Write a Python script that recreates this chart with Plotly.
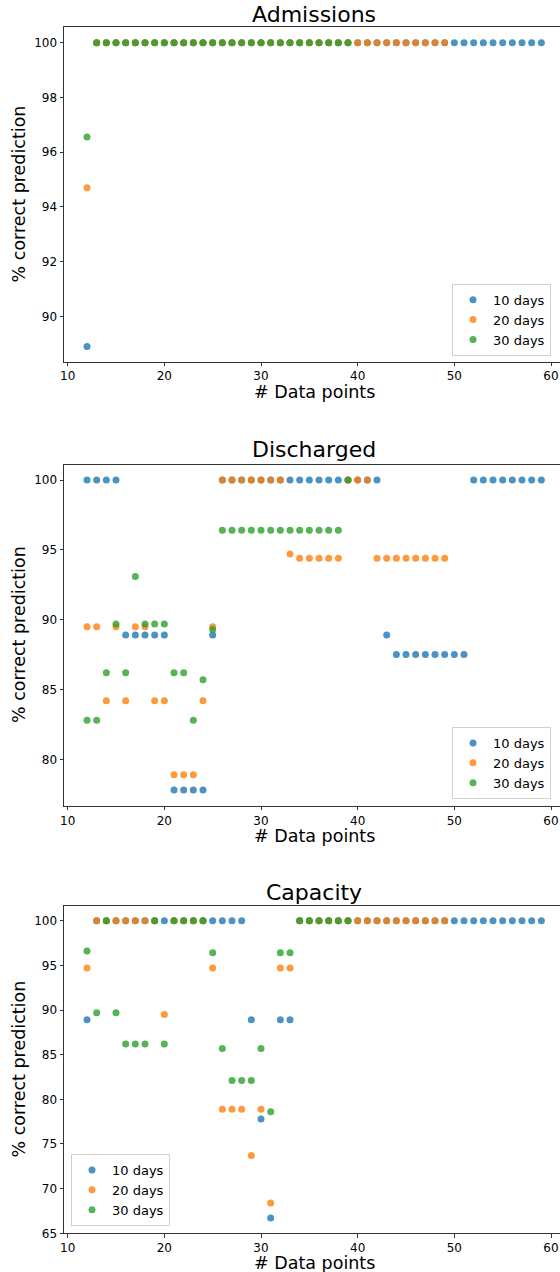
import plotly.graph_objects as go

# ---------------- data ----------------
series_names = ["10 days", "20 days", "30 days"]
colors = ["#1f77b4", "#ff7f0e", "#2ca02c"]

x_10 = [12, 13, 14, 15, 16, 17, 18, 19, 20, 21, 22, 23, 24, 25, 26, 27, 28, 29, 30, 31,
        32, 33, 34, 35, 36, 37, 38, 39, 40, 41, 42, 43, 44, 45, 46, 47, 48, 49, 50, 51,
        52, 53, 54, 55, 56, 57, 58, 59]
x_20 = [12, 13, 14, 15, 16, 17, 18, 19, 20, 21, 22, 23, 24, 25, 26, 27, 28, 29, 30, 31,
        32, 33, 34, 35, 36, 37, 38, 39, 40, 41, 42, 43, 44, 45, 46, 47, 48, 49]
x_30 = [12, 13, 14, 15, 16, 17, 18, 19, 20, 21, 22, 23, 24, 25, 26, 27, 28, 29, 30, 31,
        32, 33, 34, 35, 36, 37, 38, 39]

adm_10 = [88.9, 100, 100, 100, 100, 100, 100, 100, 100, 100, 100, 100, 100, 100, 100, 100,
          100, 100, 100, 100, 100, 100, 100, 100, 100, 100, 100, 100, 100, 100, 100, 100,
          100, 100, 100, 100, 100, 100, 100, 100, 100, 100, 100, 100, 100, 100, 100, 100]
adm_20 = [94.7, 100, 100, 100, 100, 100, 100, 100, 100, 100, 100, 100, 100, 100, 100, 100,
          100, 100, 100, 100, 100, 100, 100, 100, 100, 100, 100, 100, 100, 100, 100, 100,
          100, 100, 100, 100, 100, 100]
adm_30 = [96.55, 100, 100, 100, 100, 100, 100, 100, 100, 100, 100, 100, 100, 100, 100, 100,
          100, 100, 100, 100, 100, 100, 100, 100, 100, 100, 100, 100]

dis_10 = [100, 100, 100, 100, 88.9, 88.9, 88.9, 88.9, 88.9, 77.8, 77.8, 77.8, 77.8, 88.9,
          100, 100, 100, 100, 100, 100, 100, 100, 100, 100, 100, 100, 100, 100, 100, 100, 100,
          88.9, 87.5, 87.5, 87.5, 87.5, 87.5, 87.5, 87.5, 87.5,
          100, 100, 100, 100, 100, 100, 100, 100]
dis_20 = [89.5, 89.5, 84.2, 89.5, 84.2, 89.5, 89.5, 84.2, 84.2, 78.9, 78.9, 78.9, 84.2, 89.5,
          100, 100, 100, 100, 100, 100, 100, 94.7, 94.4, 94.4, 94.4, 94.4, 94.4,
          100, 100, 100, 94.4, 94.4, 94.4, 94.4, 94.4, 94.4, 94.4, 94.4]
dis_30 = [82.8, 82.8, 86.2, 89.7, 86.2, 93.1, 89.7, 89.7, 89.7, 86.2, 86.2, 82.8, 85.7, 89.3,
          96.4, 96.4, 96.4, 96.4, 96.4, 96.4, 96.4, 96.4, 96.4, 96.4, 96.4, 96.4, 96.4, 100]

cap_10 = [88.9, 100, 100, 100, 100, 100, 100, 100, 100, 100, 100, 100, 100, 100, 100, 100,
          100, 88.9, 77.8, 66.7, 88.9, 88.9,
          100, 100, 100, 100, 100, 100, 100, 100, 100, 100, 100, 100, 100, 100, 100, 100,
          100, 100, 100, 100, 100, 100, 100, 100, 100, 100]
cap_20 = [94.7, 100, 100, 100, 100, 100, 100, 100, 89.5, 100, 100, 100, 100, 94.7,
          78.9, 78.9, 78.9, 73.7, 78.9, 68.4, 94.7, 94.7,
          100, 100, 100, 100, 100, 100, 100, 100, 100, 100, 100, 100, 100, 100, 100, 100]
cap_30 = [96.6, 89.7, 100, 89.7, 86.2, 86.2, 86.2, 100, 86.2, 100, 100, 100, 100, 96.4,
          85.7, 82.1, 82.1, 82.1, 85.7, 78.6, 96.4, 96.4, 100, 100, 100, 100, 100, 100]

panels = [
    ("Admissions", [adm_10, adm_20, adm_30], [88.35, 100.56], [90, 92, 94, 96, 98, 100]),
    ("Discharged", [dis_10, dis_20, dis_30], [76.69, 101.11], [80, 85, 90, 95, 100]),
    ("Capacity", [cap_10, cap_20, cap_30], [65.0, 101.67], [65, 70, 75, 80, 85, 90, 95, 100]),
]
xs = [x_10, x_20, x_30]
x_ticks = [10, 20, 30, 40, 50, 60]

# ---------------- layout helpers ----------------
W, H = 560, 1272
L = 64
PW = W - L


def px(p):
    return (p - L) / PW


def py(p):
    return 1 - p / H


# pixel boxes (top, bottom) of each axes
boxes = [(27.3, 361.5), (464.5, 805.6), (905.8, 1233.3)]
title_mid = [14.5, 449.0, 892.5]
xlabel_mid = [392.5, 836.0, 1263.0]
legend_pos = [
    dict(x=px(551), xanchor="right", y=py(355.7), yanchor="bottom"),
    dict(x=px(551), xanchor="right", y=py(799.0), yanchor="bottom"),
    dict(x=px(71), xanchor="left", y=py(1226.0), yanchor="bottom"),
]

FONT = "DejaVu Sans"
fig = go.Figure()
annotations = []
layout = dict(
    width=W, height=H,
    margin=dict(l=L, r=0, t=0, b=0, autoexpand=False),
    paper_bgcolor="white", plot_bgcolor="white",
    font=dict(family=FONT, color="#000"),
    showlegend=True,
)

for i, (title, ys, yr, yt) in enumerate(panels):
    n = "" if i == 0 else str(i + 1)
    lg = "legend" if i == 0 else "legend" + str(i + 1)
    for k in range(3):
        fig.add_trace(go.Scatter(
            x=xs[k], y=ys[k], mode="markers", name=series_names[k],
            marker=dict(color=colors[k], size=7, opacity=0.8, line=dict(width=0)),
            xaxis="x" + n, yaxis="y" + n, legend=lg,
        ))
    top, bot = boxes[i]
    layout["xaxis" + n] = dict(
        domain=[0, 1], anchor="y" + n, range=[9.62, 60.93], automargin=False,
        tickvals=x_ticks, ticks="outside", ticklen=3.5, tickwidth=1, tickcolor="#333",
        showline=True, linecolor="#333", linewidth=1, mirror=True,
        showgrid=False, zeroline=False, tickfont=dict(size=12, family=FONT),
    )
    layout["yaxis" + n] = dict(
        domain=[py(bot), py(top)], anchor="x" + n, range=yr, automargin=False,
        tickvals=yt, ticks="outside", ticklen=3.5, tickwidth=1, tickcolor="#333",
        showline=True, linecolor="#333", linewidth=1,
        showgrid=False, zeroline=False, tickfont=dict(size=12, family=FONT),
    )
    layout[lg] = dict(
        **legend_pos[i],
        bordercolor="#d0d0d0", borderwidth=1, bgcolor="rgba(255,255,255,0.8)",
        font=dict(size=13, family=FONT), tracegroupgap=0,
    )
    annotations.append(dict(
        text=title, x=px(314), y=py(title_mid[i]), xref="paper", yref="paper",
        xanchor="center", yanchor="middle", showarrow=False,
        font=dict(size=22, family=FONT, color="#000"),
    ))
    annotations.append(dict(
        text="# Data points", x=px(314.5), y=py(xlabel_mid[i]), xref="paper", yref="paper",
        xanchor="center", yanchor="middle", showarrow=False,
        font=dict(size=17.5, family=FONT, color="#000"),
    ))
    annotations.append(dict(
        text="% correct prediction", x=px(19), y=py((top + bot) / 2), xref="paper",
        yref="paper", xanchor="center", yanchor="middle", textangle=-90, showarrow=False,
        font=dict(size=17.5, family=FONT, color="#000"),
    ))

layout["annotations"] = annotations
fig.update_layout(**layout)
fig.write_html("out.html")
